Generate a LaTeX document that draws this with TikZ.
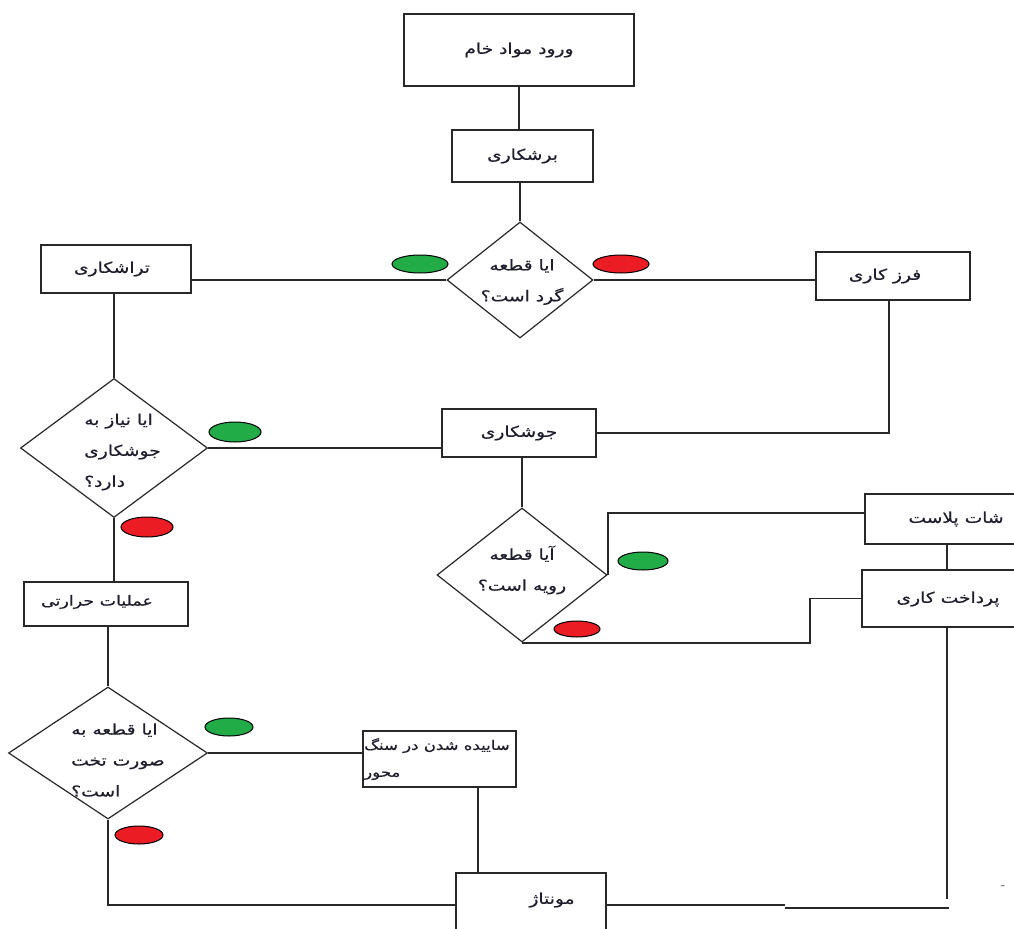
\documentclass[tikz,border=0pt]{standalone}
\usepackage{fontspec}
\usetikzlibrary{shapes.geometric,calc}
\TeXXeTstate=1
\newfontfamily\arabicfont[Script=Arabic,FakeStretch=1.25,FakeBold=0.5]{DejaVu Sans}
\newcommand{\fatx}[1]{{\arabicfont\beginR #1\endR}}
\definecolor{mygreen}{RGB}{34,172,72}
\definecolor{myred}{RGB}{236,28,36}
\definecolor{ink}{RGB}{40,40,40}
\definecolor{txt}{RGB}{30,30,45}
\begin{document}
\begin{tikzpicture}[x=1bp,y=-1bp,
  box/.style={draw=ink,line width=2.1bp,rectangle,inner sep=0pt,text=txt,font=\fontsize{15}{18}\selectfont},
  dia/.style={draw=ink,line width=1.2bp,diamond,inner sep=0pt},
  lab/.style={font=\fontsize{15}{31}\selectfont,inner sep=0pt,text=txt},
  conn/.style={draw=ink,line width=1.8bp},
  yes/.style={ellipse,draw=black,line width=1bp,fill=mygreen,inner sep=0pt},
  no/.style={ellipse,draw=black,line width=1bp,fill=myred,inner sep=0pt}]
\useasboundingbox (0,0) rectangle (1014,929);
\clip (0,0) rectangle (1014,929);
\fill[white] (0,0) rectangle (1014,929);
% boxes
\node[box,minimum width=230bp,minimum height=72bp] (raw) at (519,50) {\fatx{ورود مواد خام}};
\node[box,minimum width=141bp,minimum height=52bp] (cut) at (522.5,156) {\fatx{برشکاری}};
\node[box,minimum width=150bp,minimum height=48bp] (turn) at (116,269) {};
\node[lab] (turntxt) at (112,269) {\fatx{تراشکاری}};
\node[box,minimum width=154bp,minimum height=48bp] (mill) at (893,276) {};
\node[lab] (milltxt) at (885,276) {\fatx{فرز کاری}};
\node[box,minimum width=154bp,minimum height=48bp] (weld) at (519,433) {\fatx{جوشکاری}};
\node[box,minimum width=180bp,minimum height=50bp] (shot) at (955,519) {};
\node[lab] (shottxt) at (956,519) {\fatx{شات پلاست}};
\node[box,minimum width=180bp,minimum height=57bp] (finish) at (952,598.5) {};
\node[lab] (finishtxt) at (948,599) {\fatx{پرداخت کاری}};
\node[box,minimum width=164bp,minimum height=44bp] (heat) at (106,604) {};
\node[lab,font=\fontsize{14}{18}\selectfont] (heattxt) at (97,602) {\fatx{عملیات حرارتی}};
\node[box,minimum width=153bp,minimum height=56bp] (grind) at (439.5,759) {};
\node[lab,anchor=west,align=left,font=\fontsize{13.3}{27}\selectfont] (grindtxt) at (364,759) {\fatx{ساییده شدن در سنگ}\\\fatx{محور}};
\node[box,minimum width=150bp,minimum height=64bp] (assem) at (531,905) {};
\node[lab] (assemtxt) at (552,900) {\fatx{مونتاژ}};
% diamonds
\node[dia,minimum width=146bp,minimum height=116bp] (d1) at (520,280) {};
\node[lab,align=center] (d1t) at (522,282) {\fatx{ایا قطعه}\\\fatx{گرد است؟}};
\node[dia,minimum width=187bp,minimum height=139bp] (d2) at (114,448) {};
\node[lab,align=left,anchor=west] (d2t) at (84,452) {\fatx{ایا نیاز به}\\\fatx{جوشکاری}\\\fatx{دارد؟}};
\node[dia,minimum width=170bp,minimum height=134bp] (d3) at (522,575) {};
\node[lab,align=center] (d3t) at (522,570) {\fatx{آیا قطعه}\\\fatx{رویه است؟}};
\node[dia,minimum width=199bp,minimum height=132bp] (d4) at (108,753) {};
\node[lab,align=left,anchor=west] (d4t) at (71,760) {\fatx{ایا قطعه به}\\\fatx{صورت تخت}\\\fatx{است؟}};
% helper coordinates
\coordinate (v) at (947,0);
\coordinate (g) at (478,0);
\coordinate (m) at (889,0);
\coordinate (k) at (810,0);
\coordinate (vend) at (947,899);
\coordinate (s1) at (785,905);
\coordinate (s2) at (785,908);
\coordinate (hend) at (949,908);
% connectors
\draw[conn] (raw.south) -- (raw.south |- cut.north);
\draw[conn] (d1.north |- cut.south) -- (d1.north);
\draw[conn] (d1.west) -- (d1.west -| turn.east);
\draw[conn] (d1.east) -- (d1.east -| mill.west);
\draw[conn] (d2.north |- turn.south) -- (d2.north);
\draw[conn] (d2.east) -- (d2.east -| weld.west);
\draw[conn] (mill.south -| m) |- (weld.east);
\draw[conn] (d3.north |- weld.south) -- (d3.north);
\draw[conn] (d2.south) -- (d2.south |- heat.north);
\draw[conn] (d3.east) |- ($(shot.west)+(0,-6)$);
\draw[conn] (d3.south) -- (d3.south -| k) |- (finish.west);
\draw[conn] (shot.south -| v) -- (finish.north -| v);
\draw[conn] (finish.south -| v) -- (vend);
\draw[conn] (assem.east) -- (s1);
\draw[conn] (s2) -- (hend);
\draw[conn] (d4.north |- heat.south) -- (d4.north);
\draw[conn] (d4.east) -- (d4.east -| grind.west);
\draw[conn] (d4.south) |- (assem.west);
\draw[conn] (grind.south -| g) -- (assem.north -| g);
% yes / no marks
\node[yes,minimum width=56bp,minimum height=18bp] (y1) at (420,264) {};
\node[no,minimum width=56bp,minimum height=18bp] (n1) at (621,264) {};
\node[yes,minimum width=52bp,minimum height=20bp] (y2) at (235,432) {};
\node[no,minimum width=52bp,minimum height=20bp] (n2) at (147,527) {};
\node[yes,minimum width=50bp,minimum height=18bp] (y3) at (643,561) {};
\node[no,minimum width=46bp,minimum height=16bp] (n3) at (577,629) {};
\node[yes,minimum width=48bp,minimum height=18bp] (y4) at (229,727) {};
\node[no,minimum width=48bp,minimum height=18bp] (n4) at (139,835) {};
\node[lab] (dash) at (1003,888) {-};
\end{tikzpicture}
\end{document}
